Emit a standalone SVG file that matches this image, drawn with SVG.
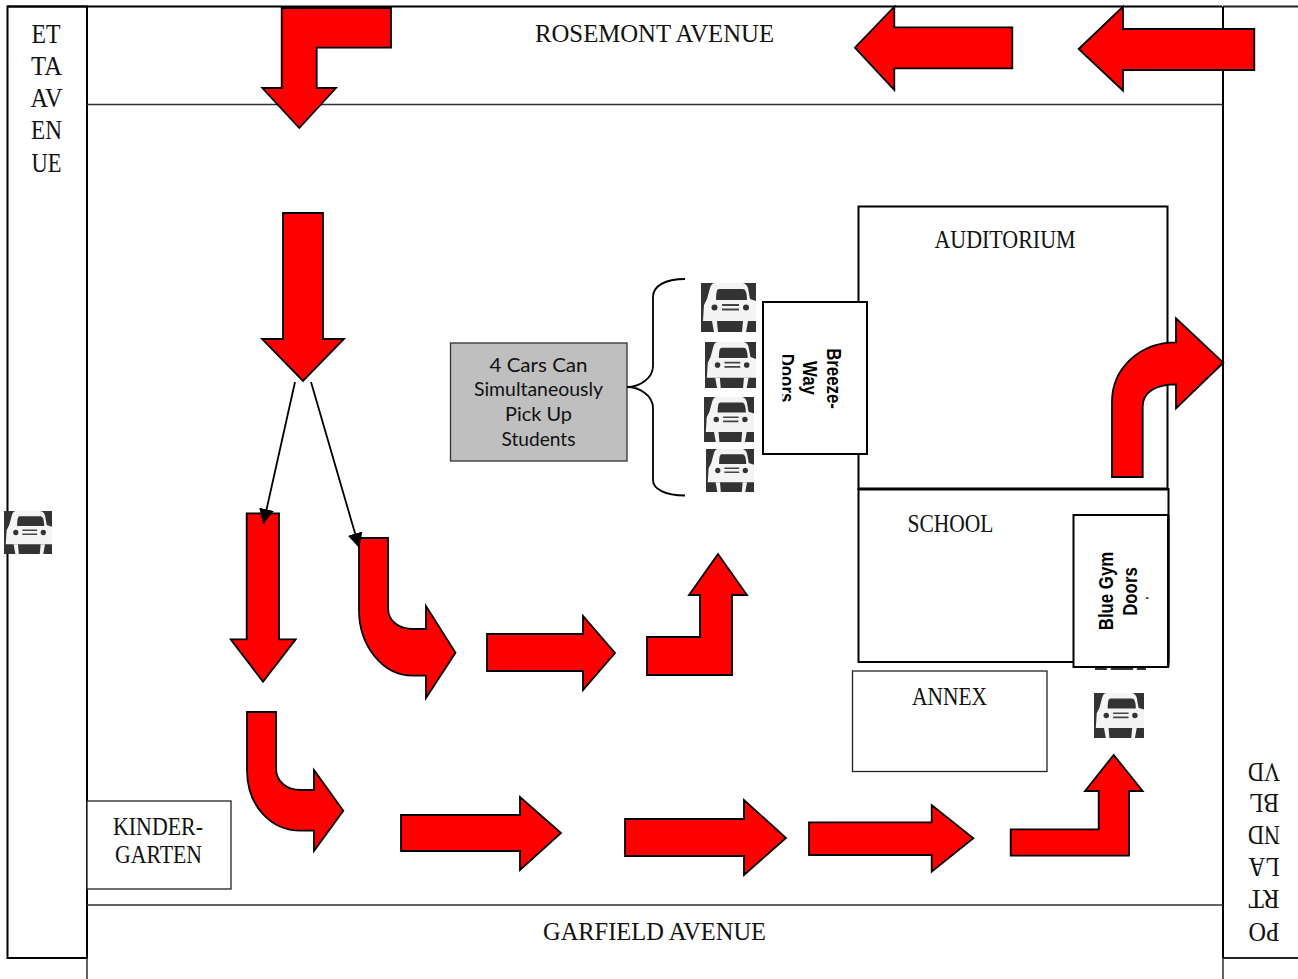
<svg xmlns="http://www.w3.org/2000/svg" width="1298" height="979" viewBox="0 0 1298 979">
<style>
.road{fill:none;stroke:#000;stroke-width:2}
.thin{fill:none;stroke:#333;stroke-width:1.5}
.box{fill:#fff;stroke:#000;stroke-width:2}
.lite{fill:#fff;stroke:#222;stroke-width:1.3}
.arrow{fill:#f00;stroke:#000;stroke-width:1.8;stroke-linejoin:miter}
.serif{font-family:"Liberation Serif",serif;font-size:25px;fill:#111;text-anchor:middle}
.tall{font-size:26.500px}
.sans{font-family:Lato,"Liberation Sans",sans-serif;font-size:20px;fill:#111;text-anchor:middle}
.bold{font-family:"Liberation Sans",Arial,sans-serif;font-weight:bold;font-size:21px;fill:#000;text-anchor:middle}
</style>
<defs>
<symbol id="car" viewBox="0 0 55 49" preserveAspectRatio="none">
<rect width="55" height="49" fill="#333"/>
<path d="M14 0H41C44 0 46 2 47 5L49 16L55 18V38H2L3 22L6 16L9 5C10 2 11 0 14 0Z" fill="#f4f4f4"/>
<path d="M11 38H16L17 49H13ZM42 38H47L45 49H41Z" fill="#f4f4f4"/>
<path d="M18 6H42C44 6 46 9 46 17H15C15 9 16 6 18 6Z" fill="#333"/>
<circle cx="13.500" cy="24.500" r="3" fill="#333"/>
<circle cx="45" cy="24.500" r="3" fill="#333"/>
<path d="M21 22H38M21 26.500H38" stroke="#444" stroke-width="1.800" fill="none"/>
</symbol>
<marker id="head" markerUnits="userSpaceOnUse" markerWidth="16" markerHeight="16" refX="15" refY="7.500" orient="auto">
<path d="M0 0L15 7.500L0 15Z" fill="#000"/>
</marker>
<clipPath id="breezeClip"><rect x="782.500" y="303" width="84" height="99.500"/></clipPath>
</defs>

<g id="streets">
<path class="road" d="M7.500 6.500H1222"/>
<path d="M1223 6.500H1298M1223 958H1298" fill="none" stroke="#222" stroke-width="2"/>
<rect class="road" x="7.500" y="6.500" width="79.500" height="951.500"/>
<path class="thin" d="M87 958V979M1223 958V979"/>
<path class="road" d="M1223 6.500V958"/>
<path class="thin" d="M87 104.500H1223M87 905H1223"/>
</g>

<g id="etta-avenue">
<text class="serif tall" x="46" y="43" textLength="29" lengthAdjust="spacingAndGlyphs">ET</text>
<text class="serif tall" x="46.500" y="75" textLength="31" lengthAdjust="spacingAndGlyphs">TA</text>
<text class="serif tall" x="46.500" y="107" textLength="32" lengthAdjust="spacingAndGlyphs">AV</text>
<text class="serif tall" x="46.500" y="139" textLength="31" lengthAdjust="spacingAndGlyphs">EN</text>
<text class="serif tall" x="46.500" y="171.500" textLength="30" lengthAdjust="spacingAndGlyphs">UE</text>
</g>
<g id="rosemont-avenue"><text class="serif" x="654.500" y="42" textLength="239" lengthAdjust="spacingAndGlyphs">ROSEMONT AVENUE</text></g>
<g id="garfield-avenue"><text class="serif" x="654.500" y="940" textLength="223" lengthAdjust="spacingAndGlyphs">GARFIELD AVENUE</text></g>
<g id="portland-blvd">
<text class="serif tall" transform="rotate(180 1264 923)" x="1264" y="923" textLength="31" lengthAdjust="spacingAndGlyphs">PO</text>
<text class="serif tall" transform="rotate(180 1264 890)" x="1264" y="890" textLength="31" lengthAdjust="spacingAndGlyphs">RT</text>
<text class="serif tall" transform="rotate(180 1264 858)" x="1264" y="858" textLength="31" lengthAdjust="spacingAndGlyphs">LA</text>
<text class="serif tall" transform="rotate(180 1264 826)" x="1264" y="826" textLength="32" lengthAdjust="spacingAndGlyphs">ND</text>
<text class="serif tall" transform="rotate(180 1264 794)" x="1264" y="794" textLength="30" lengthAdjust="spacingAndGlyphs">BL</text>
<text class="serif tall" transform="rotate(180 1264 763)" x="1264" y="763" textLength="32" lengthAdjust="spacingAndGlyphs">VD</text>
</g>

<g id="auditorium">
<rect class="box" x="858.500" y="206.500" width="309" height="282.500"/>
<text class="serif" x="1005" y="248" textLength="141" lengthAdjust="spacingAndGlyphs">AUDITORIUM</text>
</g>
<g id="school">
<rect class="box" x="858.500" y="489" width="310" height="173"/>
<path d="M858 489H1168" stroke="#000" stroke-width="3" fill="none"/>
<text class="serif" x="950.500" y="532" textLength="86" lengthAdjust="spacingAndGlyphs">SCHOOL</text>
</g>
<g id="annex">
<rect class="lite" x="852.500" y="671" width="194.500" height="100.500"/>
<text class="serif" x="949.500" y="705" textLength="75" lengthAdjust="spacingAndGlyphs">ANNEX</text>
</g>
<g id="kindergarten">
<rect class="lite" x="87" y="801" width="144" height="88"/>
<text class="serif" x="158" y="835" textLength="90" lengthAdjust="spacingAndGlyphs">KINDER-</text>
<text class="serif" x="158.500" y="863" textLength="87" lengthAdjust="spacingAndGlyphs">GARTEN</text>
</g>

<g id="car-left"><use href="#car" x="4" y="511" width="48" height="43"/></g>
<g id="car-1"><use href="#car" x="701" y="283" width="55" height="49"/></g>
<g id="car-2"><use href="#car" x="705" y="342" width="51" height="46"/></g>
<g id="car-3"><use href="#car" x="704" y="397" width="50" height="45"/></g>
<g id="car-4"><use href="#car" x="706" y="449" width="48" height="43"/></g>
<g id="car-hidden"><use href="#car" x="1095" y="625" width="51" height="45"/></g>
<g id="car-5"><use href="#car" x="1094" y="693" width="50" height="45"/></g>

<g id="breezeway-doors">
<rect class="box" x="763" y="302" width="104" height="152"/>
<text class="bold" transform="translate(827 378.500) rotate(90) scale(.8 1)">Breeze-</text>
<text class="bold" transform="translate(803 378) rotate(90) scale(.8 1)">Way</text>
<g clip-path="url(#breezeClip)"><text class="bold" transform="translate(780 378) rotate(90) scale(.8 1)">Doors</text></g>
</g>
<g id="blue-gym-doors">
<rect class="box" x="1073.500" y="515" width="94.500" height="152"/>
<path d="M1168.500 515V667" stroke="#000" stroke-width="2" fill="none"/>
<text class="bold" transform="translate(1113 591) rotate(-90) scale(.8 1)">Blue Gym</text>
<text class="bold" transform="translate(1137 591.500) rotate(-90) scale(.8 1)">Doors</text>
<rect x="1146" y="597.300" width="2.500" height="1.600" fill="#222"/>
</g>

<g id="info-box">
<rect x="450.500" y="343" width="176.500" height="118" fill="#bfbfbf" stroke="#333" stroke-width="1.300"/>
<text class="sans" x="538.500" y="372" textLength="98" lengthAdjust="spacingAndGlyphs">4 Cars Can</text>
<text class="sans" x="538.500" y="396" textLength="129" lengthAdjust="spacingAndGlyphs">Simultaneously</text>
<text class="sans" x="538.500" y="421" textLength="67" lengthAdjust="spacingAndGlyphs">Pick Up</text>
<text class="sans" x="538.500" y="446" textLength="74" lengthAdjust="spacingAndGlyphs">Students</text>
</g>

<g id="connectors">
<path id="brace" d="M685 279C665 279 653 286 653 297V366C653 378 640 387 627 387C640 387 653 396 653 408V480C653 489 665 495.500 685 495.500" fill="none" stroke="#000" stroke-width="1.800"/>
<path class="arrow" d="M391 8H281.700V88H262.300L299.300 128L336 88H316.700V47.700H391Z"/>
<path class="arrow" d="M855 47.700L894.300 6.700V27.300H1012.300V68.300H894.300V90Z"/>
<path class="arrow" d="M1078.700 49L1123 6.700V29H1254.300V70H1123V90.700Z"/>
<path class="arrow" d="M283 213H323V339H344L303 381L262 339H283Z"/>
<path class="arrow" d="M246.700 513.300H279V639.300H295.700L263 681.700L230.700 639.300H246.700Z"/>
<path class="arrow" d="M359 538H388V608C388 622 400 629 413 629H426V606L455.500 652.700L426 698V675.700H413C382 675.700 359 645 359 610Z"/>
<path class="arrow" d="M247 712H276V768C276 782 287 790 301 790H314V770L343.300 810.700L314 851V830.700H301C270 830.700 247 805 247 770Z"/>
<path class="arrow" d="M487 634H583V616L615 653L583 690V671H487Z"/>
<path class="arrow" d="M647 637H700V595H689L718 554L747 595H732V675H647Z"/>
<path class="arrow" d="M401 815H520V797L561 833L520 870V851H401Z"/>
<path class="arrow" d="M625 819H744V800L786 838L744 875V856H625Z"/>
<path class="arrow" d="M809 822.300H931.700V805L973.300 838.300L931.700 871.700V855H809Z"/>
<path class="arrow" d="M1010.700 829.300H1098.700V791H1085L1113.700 755L1142.700 791H1129V855.700H1010.700Z"/>
<path class="arrow" d="M1112 477V402C1112 368 1140 342.300 1176 342.300V318.300L1223.300 362.700L1176 408.300V384.300C1156 384.300 1142.700 392 1142.700 406.700V477Z"/>
<path d="M295 382L263.300 524" fill="none" stroke="#000" stroke-width="1.800" marker-end="url(#head)"/>
<path d="M311 382L359.300 548" fill="none" stroke="#000" stroke-width="1.800" marker-end="url(#head)"/>
</g>
</svg>
